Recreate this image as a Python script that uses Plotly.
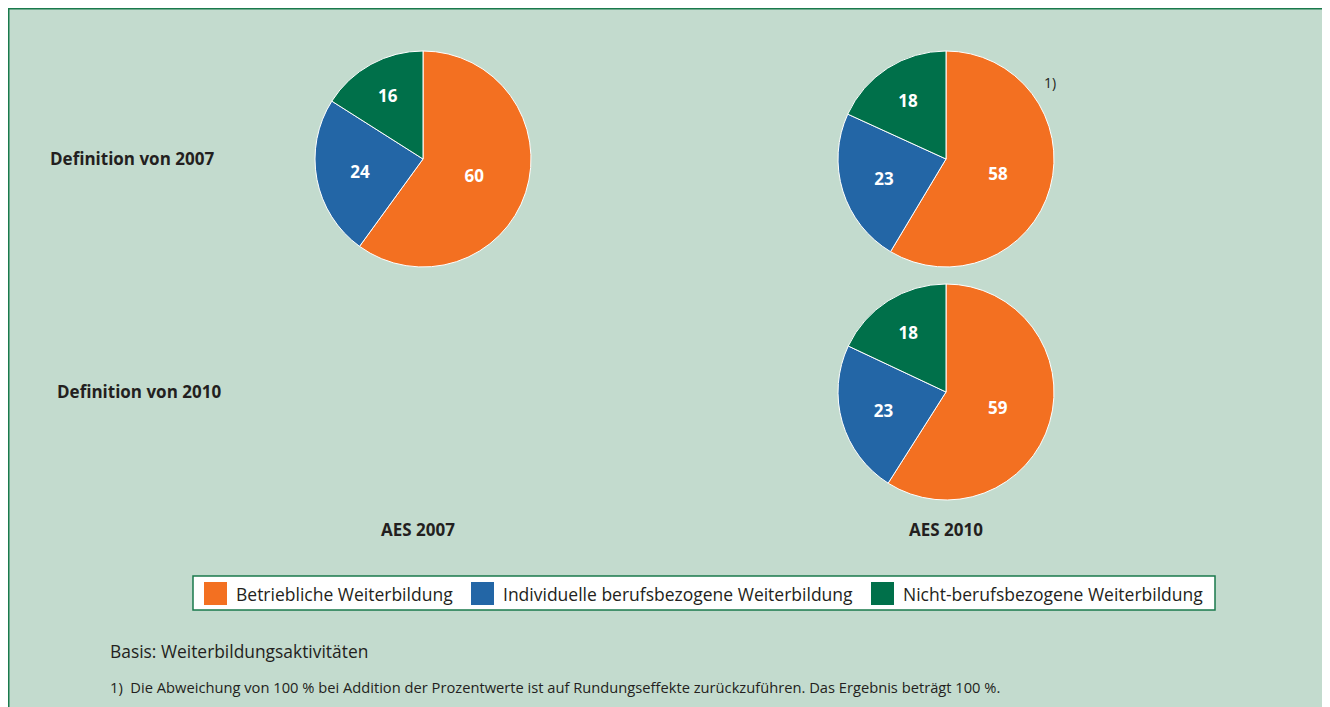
import plotly.graph_objects as go

# the page puts the figure 8px in from the top-left corner; this size fills the window
OFF = 8
W, H = 1330 - OFF, 707 - OFF

categories = [
    "Betriebliche Weiterbildung",
    "Individuelle berufsbezogene Weiterbildung",
    "Nicht-berufsbezogene Weiterbildung",
]
aes2007_def2007 = [60, 24, 16]
aes2010_def2007 = [58, 23, 18]
aes2010_def2010 = [59, 23, 18]

row_labels = ["Definition von 2007", "Definition von 2010"]
col_labels = ["AES 2007", "AES 2010"]

colors = ["#f37021", "#2366a6", "#00704a"]
BG = "#c3dbce"
BORDER = "#1a7a4c"
TEXT = "#231f20"
FONT = "Open Sans"


def px(x):
    return (x - OFF) / W


def py(y):
    return 1 - (y - OFF) / H


def pie(values, x0, y0, x1, y1):
    return go.Pie(
        labels=categories, values=values, sort=False, direction="clockwise",
        marker=dict(colors=colors, line=dict(color="white", width=1)),
        textinfo="value", textposition="inside", insidetextorientation="horizontal",
        textfont=dict(family=FONT, size=17, color="white", weight="bold"),
        domain=dict(x=[px(x0), px(x1)], y=[py(y1), py(y0)]),
        showlegend=False, hoverinfo="label+value",
    )


fig = go.Figure()
fig.add_trace(pie(aes2007_def2007, 315, 51, 531, 267))
fig.add_trace(pie(aes2010_def2007, 838, 51, 1054, 267))
fig.add_trace(pie(aes2010_def2010, 838, 284, 1054, 500))


def note(text, x, y, size, xanchor="center", bold=False):
    return dict(text=f"<b>{text}</b>" if bold else text, x=px(x), y=py(y),
                xanchor=xanchor, yanchor="middle", showarrow=False,
                xref="paper", yref="paper",
                font=dict(family=FONT, size=size, color=TEXT))


shapes = [
    # frame: only the top and left edges are visible
    dict(type="line", xref="paper", yref="paper", x0=0, x1=1, y0=1, y1=1,
         line=dict(color=BORDER, width=3)),
    dict(type="line", xref="paper", yref="paper", x0=0, x1=0, y0=0, y1=1,
         line=dict(color=BORDER, width=3)),
    # legend box
    dict(type="rect", xref="paper", yref="paper", layer="below",
         x0=px(193), x1=px(1215), y0=py(610), y1=py(576),
         fillcolor="white", line=dict(color=BORDER, width=1.5)),
]

annotations = []
for text, (x, y) in zip(row_labels, [(132, 159), (139, 391)]):
    annotations.append(note(text, x, y, 17, bold=True))
for text, (x, y) in zip(col_labels, [(418, 529), (946, 529)]):
    annotations.append(note(text, x, y, 17, bold=True))

# legend entries
swatch_x = [204, 471, 871]
for cat, col, sx in zip(categories, colors, swatch_x):
    shapes.append(dict(type="rect", xref="paper", yref="paper",
                       x0=px(sx), x1=px(sx + 23), y0=py(605), y1=py(582),
                       fillcolor=col, line=dict(width=0)))
    annotations.append(note(cat, sx + 30, 593.5, 17.5, xanchor="left"))

annotations.append(note("1)", 1050, 82, 14))
annotations.append(note("Basis: Weiterbildungsaktivitäten", 108, 651, 17.4, xanchor="left"))
annotations.append(note(
    "1)  Die Abweichung von 100 % bei Addition der Prozentwerte ist auf "
    "Rundungseffekte zurückzuführen. Das Ergebnis beträgt 100 %.",
    108, 687, 14.7, xanchor="left"))

fig.update_layout(
    width=W, height=H, margin=dict(l=0, r=0, t=0, b=0),
    paper_bgcolor=BG, plot_bgcolor=BG,
    shapes=shapes, annotations=annotations,
    font=dict(family=FONT, color=TEXT),
)

fig.write_html("out.html")
